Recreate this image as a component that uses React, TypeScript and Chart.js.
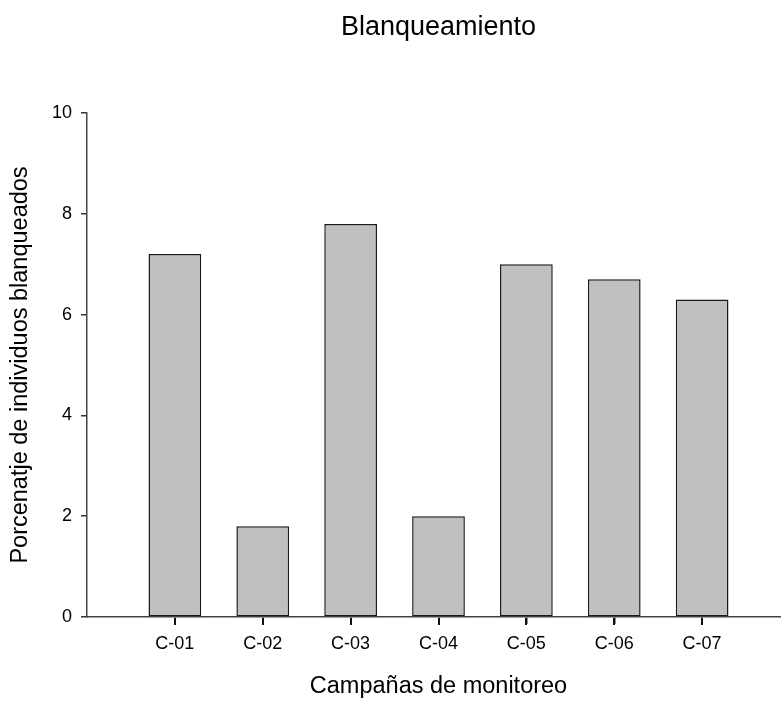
import React, { useEffect, useRef } from "react";
import { Chart, registerables } from "chart.js";

Chart.register(...registerables);

const categories = ["C-01", "C-02", "C-03", "C-04", "C-05", "C-06", "C-07"];
const values = [7.2, 1.8, 7.8, 2.0, 7.0, 6.7, 6.3];
const yTicks = [0, 2, 4, 6, 8, 10];
const chartTitle = "Blanqueamiento";
const xTitle = "Campañas de monitoreo";
const yTitle = "Porcenatje de individuos blanqueados";

const FONT = "'Liberation Sans', Arial, sans-serif";

// short tick marks under the x axis, at each category position of the x scale
const xTickMarks = {
  id: "xTickMarks",
  afterDraw(chart: any) {
    const s = chart.scales.x;
    const ctx = chart.ctx;
    const y0 = chart.chartArea.bottom;
    ctx.save();
    ctx.strokeStyle = "#111";
    ctx.lineWidth = 2;
    categories.forEach((_, i) => {
      const px = Math.round(s.getPixelForValue(i + 1));
      ctx.beginPath();
      ctx.moveTo(px, y0 + 1);
      ctx.lineTo(px, y0 + 8);
      ctx.stroke();
    });
    ctx.restore();
  },
};

export default function App() {
  const ref = useRef<HTMLCanvasElement | null>(null);

  useEffect(() => {
    if (!ref.current) return;
    const points = values.map((v, i) => ({ x: i + 1, y: v }));
    const chart = new Chart(ref.current, {
      type: "bar",
      data: {
        datasets: [
          {
            data: points as any,
            backgroundColor: "#c0c0c0",
            borderColor: "#1a1a1a",
            borderWidth: 1.5,
            borderSkipped: false,
            barPercentage: 0.6,
            categoryPercentage: 1,
            xAxisID: "x",
            yAxisID: "y",
          },
        ],
      },
      plugins: [xTickMarks],
      options: {
        animation: false,
        responsive: false,
        layout: { padding: 0 },
        plugins: {
          legend: { display: false },
          tooltip: { enabled: false },
          title: { display: false },
        },
        scales: {
          top: {
            type: "linear",
            position: "top",
            min: 0,
            max: 8,
            offset: false,
            grid: { display: false },
            border: { display: false },
            ticks: { display: false },
            title: {
              display: true,
              text: chartTitle,
              color: "#000",
              font: { family: FONT, size: 27 },
              padding: { top: 11, bottom: 0 },
            },
            afterFit: (s: any) => {
              s.height = 113;
            },
          },
          x: {
            type: "linear",
            position: "bottom",
            min: 0,
            max: 8,
            offset: false,
            afterBuildTicks: (s: any) => {
              s.ticks = categories.map((_, i) => ({ value: i + 1 }));
            },
            grid: {
              display: true,
              offset: false,
              drawOnChartArea: false,
              drawTicks: true,
              tickLength: 7,
              color: "#222",
              lineWidth: 1.5,
            },
            border: { display: true, color: "#444", width: 1.5 },
            ticks: {
              color: "#000",
              font: { family: FONT, size: 18 },
              padding: 9,
              maxRotation: 0,
              autoSkip: false,
              callback: (v: any) => categories[Math.round(Number(v)) - 1] ?? "",
            },
            title: {
              display: true,
              text: xTitle,
              color: "#000",
              font: { family: FONT, size: 23.5 },
              padding: { top: 0, bottom: 0 },
            },
            afterFit: (s: any) => {
              s.height = 84;
            },
          },
          y: {
            type: "linear",
            position: "left",
            min: 0,
            max: 10,
            afterBuildTicks: (s: any) => {
              s.ticks = yTicks.map((v) => ({ value: v }));
            },
            grid: {
              drawOnChartArea: false,
              drawTicks: true,
              tickLength: 6,
              color: "#333",
              lineWidth: 1.5,
            },
            border: { display: true, color: "#444", width: 1.5 },
            ticks: {
              color: "#000",
              font: { family: FONT, size: 18 },
              padding: 9,
            },
            title: {
              display: true,
              text: yTitle,
              color: "#000",
              font: { family: FONT, size: 23.5 },
              padding: { top: 6, bottom: 0 },
            },
            afterFit: (s: any) => {
              s.width = 87;
            },
          },
        },
      },
    });
    return () => chart.destroy();
  }, []);

  return (
    <div
      style={{
        position: "absolute",
        left: 0,
        top: 0,
        width: 781,
        height: 701,
        overflow: "hidden",
        background: "#fff",
      }}
    >
      <canvas ref={ref} width={790} height={701} style={{ display: "block" }} />
    </div>
  );
}
